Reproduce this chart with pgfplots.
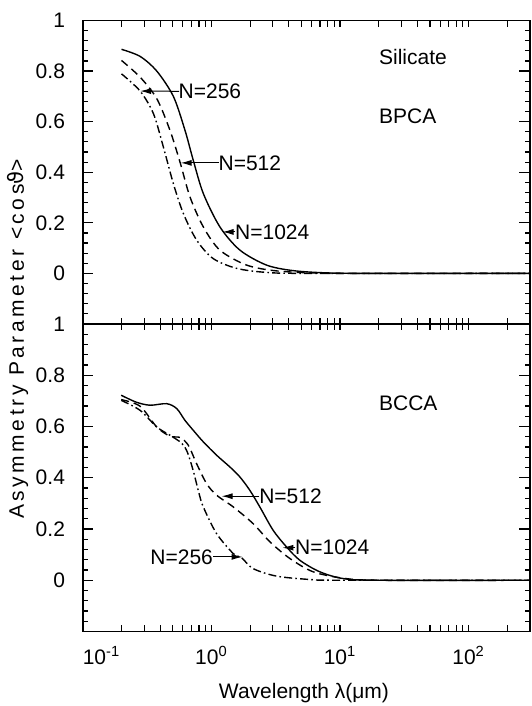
\documentclass[border=0pt]{standalone}
\usepackage{fontspec}
\setmainfont{Liberation Sans}
\newfontfamily\dv{DejaVu Sans}
\usepackage{pgfplots}
\pgfplotsset{compat=1.18}
\usetikzlibrary{arrows.meta}

\pgfplotstableread{
x y
0.2 0.886
0.279 0.858
0.376 0.80
0.506 0.70
0.623 0.566
0.723 0.447
0.865 0.316
1.164 0.184
1.667 0.092
2.68 0.033
4.32 0.011
8 0.002
20 0
300 0
}\topA

\pgfplotstableread{
x y
0.2 0.842
0.279 0.776
0.376 0.691
0.476 0.566
0.57 0.44
0.681 0.303
0.865 0.184
1.164 0.092
1.876 0.033
3.2 0.01
7 0.001
20 0
300 0
}\topB

\pgfplotstableread{
x y
0.2 0.789
0.279 0.721
0.354 0.632
0.423 0.5
0.506 0.355
0.605 0.237
0.767 0.132
1.03 0.059
1.57 0.02
2.68 0.004
6 0
300 0
}\topC

\pgfplotstableread{
x y
0.199 0.722
0.26 0.695
0.333 0.683
0.449 0.689
0.537 0.670
0.623 0.624
0.723 0.585
0.865 0.540
1.097 0.488
1.393 0.442
1.666 0.403
1.99 0.351
2.38 0.286
3.02 0.195
3.84 0.130
4.87 0.078
6.96 0.033
10.6 0.0065
20 0
300 0
}\botA

\pgfplotstableread{
x y
0.199 0.705
0.279 0.679
0.376 0.598
0.476 0.562
0.57 0.557
0.661 0.527
0.767 0.455
0.918 0.377
1.097 0.332
1.48 0.286
2.11 0.221
2.85 0.150
4.07 0.085
6.18 0.033
10.6 0.008
20 0
300 0
}\botB

\pgfplotstableread{
x y
0.199 0.702
0.279 0.663
0.376 0.598
0.476 0.566
0.587 0.535
0.65 0.50
0.72 0.43
0.80 0.34
0.865 0.286
1.097 0.182
1.48 0.104
1.717 0.088
2.11 0.0455
3.21 0.016
5.82 0.003
10 0
300 0
}\botC

\begin{document}
\begin{tikzpicture}[font=\fontsize{10.5}{12}\selectfont]
\useasboundingbox (0,0) rectangle (265.5pt,353pt);
\begin{semilogxaxis}[at={(41.4pt,191pt)}, anchor=south west,
    scale only axis, width=223.6pt, height=151.75pt,
    xmin=0.1, xmax=300, ymin=-0.2, ymax=1,
    xtick={0.1,1,10,100},
    minor xtick={0.2,0.3,0.4,0.5,0.6,0.7,0.8,0.9,2,3,4,5,6,7,8,9,20,30,40,50,60,70,80,90,200},
    xticklabels={},
    ytick={-0.2,0,0.2,0.4,0.6,0.8,1},
    yticklabels={,0,0.2,0.4,0.6,0.8,1},
    minor y tick num=4,
    tick align=inside,
    major tick length=5.3pt, minor tick length=2.4pt,
    xtick style={/pgfplots/major tick length=3.2pt,/pgfplots/minor tick length=3.2pt},
    axis line style={line width=0.75pt},
    every tick/.append style={black, line width=0.6pt},
    yticklabel style={xshift=-5.4pt}]
\addplot[black, line width=0.7pt, smooth] table {\topA};
\addplot[black, line width=0.7pt, smooth, dash pattern=on 4pt off 2.5pt] table {\topB};
\addplot[black, line width=0.7pt, smooth, dash pattern=on 4pt off 1.6pt on 0.8pt off 1.6pt] table {\topC};
\draw[-{Latex[length=5.5pt,width=3pt]}, line width=0.5pt] (axis cs:0.56,0.72) -- (axis cs:0.279,0.721);
\node[anchor=west, inner sep=0pt] at (axis cs:0.553,0.72) {N=256};
\draw[-{Latex[length=5.5pt,width=3pt]}, line width=0.5pt] (axis cs:1.14,0.437) -- (axis cs:0.577,0.437);
\node[anchor=west, inner sep=0pt] at (axis cs:1.13,0.437) {N=512};
\draw[-{Latex[length=5.5pt,width=3pt]}, line width=0.5pt] (axis cs:1.53,0.164) -- (axis cs:1.22,0.164);
\node[anchor=west, inner sep=0pt] at (axis cs:1.52,0.164) {N=1024};
\node[anchor=west, inner sep=0pt] at (axis cs:20,0.855) {Silicate};
\node[anchor=west, inner sep=0pt] at (axis cs:20,0.623) {BPCA};
\end{semilogxaxis}
\begin{semilogxaxis}[at={(41.4pt,37.25pt)}, anchor=south west,
    scale only axis, width=223.6pt, height=153.75pt,
    xmin=0.1, xmax=300, ymin=-0.2, ymax=1,
    xtick={0.1,1,10,100},
    minor xtick={0.2,0.3,0.4,0.5,0.6,0.7,0.8,0.9,2,3,4,5,6,7,8,9,20,30,40,50,60,70,80,90,200},
    xticklabels={\makebox[0pt][l]{10\textsuperscript{-1}},10\textsuperscript{0},10\textsuperscript{1},10\textsuperscript{2}},
    ytick={-0.2,0,0.2,0.4,0.6,0.8,1},
    yticklabels={,0,0.2,0.4,0.6,0.8,1},
    minor y tick num=4,
    tick align=inside,
    major tick length=5.3pt, minor tick length=2.4pt,
    xtick style={/pgfplots/major tick length=3.2pt,/pgfplots/minor tick length=3.2pt},
    axis line style={line width=0.75pt},
    every tick/.append style={black, line width=0.6pt},
    yticklabel style={xshift=-5.4pt},
    xticklabel style={yshift=-4pt}]
\addplot[black, line width=0.7pt, smooth] table {\botA};
\addplot[black, line width=0.7pt, smooth, dash pattern=on 4pt off 2.5pt] table {\botB};
\addplot[black, line width=0.7pt, smooth, dash pattern=on 4pt off 1.6pt on 0.8pt off 1.6pt] table {\botC};
\draw[-{Latex[length=5.5pt,width=3pt]}, line width=0.5pt] (axis cs:2.36,0.328) -- (axis cs:1.2,0.328);
\node[anchor=west, inner sep=0pt] at (axis cs:2.34,0.328) {N=512};
\draw[-{Latex[length=5.5pt,width=3pt]}, line width=0.5pt] (axis cs:4.47,0.127) -- (axis cs:3.57,0.127);
\node[anchor=west, inner sep=0pt] at (axis cs:4.45,0.127) {N=1024};
\draw[-{Latex[length=5.5pt,width=3pt]}, line width=0.5pt] (axis cs:1.03,0.091) -- (axis cs:1.747,0.091);
\node[anchor=east, inner sep=0pt] at (axis cs:1.034,0.091) {N=256};
\node[anchor=west, inner sep=0pt] at (axis cs:20,0.69) {BCCA};
\end{semilogxaxis}
\node[rotate=90, inner sep=0pt] at (9pt,183.5pt) {\addfontfeature{LetterSpace=17}Asymmetry Parameter <cos{\dv\addfontfeature{LetterSpace=17}ϑ}>};
\node[inner sep=0pt] at (152pt,6.5pt) {Wavelength λ(μm)};
\end{tikzpicture}
\end{document}
